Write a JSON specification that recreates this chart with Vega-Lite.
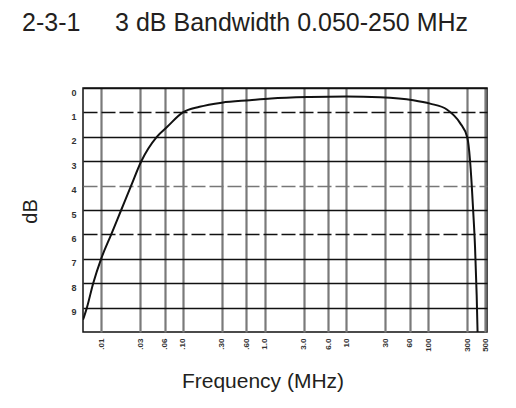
{
  "$schema": "https://vega.github.io/schema/vega-lite/v6.json",
  "autosize": {"type": "none"},
  "width": 404,
  "height": 244,
  "padding": {"left": 83, "top": 88, "right": 29, "bottom": 76},
  "background": "white",
  "title": {
    "text": "2-3-1\u00a0\u00a0\u00a0\u00a0\u00a03 dB Bandwidth 0.050-250 MHz",
    "anchor": "start",
    "frame": "group",
    "dx": -61,
    "offset": 52,
    "font": "Liberation Sans",
    "fontSize": 25,
    "fontWeight": "normal",
    "color": "#231f20"
  },
  "config": {
    "view": {"stroke": "#111", "strokeWidth": 1.5},
    "axis": {"domain": false, "ticks": false}
  },
  "data": {
    "values": [
      {"freq": 0.006, "db": 9.5},
      {"freq": 0.0067, "db": 9.0},
      {"freq": 0.008, "db": 8.0},
      {"freq": 0.01, "db": 7.0},
      {"freq": 0.0133, "db": 6.0},
      {"freq": 0.0176, "db": 5.0},
      {"freq": 0.0233, "db": 4.0},
      {"freq": 0.031, "db": 3.0},
      {"freq": 0.048, "db": 2.0},
      {"freq": 0.064, "db": 1.6},
      {"freq": 0.1, "db": 1.0},
      {"freq": 0.16, "db": 0.77},
      {"freq": 0.3, "db": 0.6},
      {"freq": 0.66, "db": 0.5},
      {"freq": 1.2, "db": 0.43},
      {"freq": 3.6, "db": 0.37},
      {"freq": 10, "db": 0.35},
      {"freq": 26, "db": 0.38},
      {"freq": 66, "db": 0.5},
      {"freq": 106, "db": 0.64},
      {"freq": 170, "db": 0.88},
      {"freq": 246, "db": 1.43},
      {"freq": 303, "db": 2.04},
      {"freq": 326, "db": 2.93},
      {"freq": 343, "db": 4.0},
      {"freq": 358, "db": 5.1},
      {"freq": 376, "db": 6.5},
      {"freq": 394, "db": 8.5},
      {"freq": 404, "db": 10.0}
    ]
  },
  "mark": {"type": "line", "color": "#111", "strokeWidth": 2, "interpolate": "monotone", "clip": true},
  "encoding": {
    "x": {
      "field": "freq",
      "type": "quantitative",
      "scale": {"type": "log", "domain": [0.006, 527], "nice": false},
      "axis": {
        "title": "Frequency (MHz)",
        "titleFont": "Liberation Sans",
        "titleFontSize": 21,
        "titleFontWeight": "normal",
        "titleColor": "#231f20",
        "titleX": 179.5,
        "titleY": 55,
        "titleAlign": "center",
        "titleBaseline": "alphabetic",
        "values": [0.01, 0.03, 0.06, 0.1, 0.3, 0.6, 1, 3, 6, 10, 30, 60, 100, 300, 500],
        "labelExpr": "datum.value < 1 ? replace(format(datum.value, '.2f'), '0.', '.') : (datum.value < 10 ? format(datum.value, '.1f') : format(datum.value, 'd'))",
        "labelAngle": -90,
        "labelFont": "Liberation Sans",
        "labelFontSize": 8,
        "labelFontWeight": "bold",
        "labelColor": "#333",
        "labelPadding": 6,
        "labelFlush": false,
        "labelOverlap": false,
        "grid": true,
        "gridColor": "#7a7a7a",
        "gridWidth": 2.2
      }
    },
    "y": {
      "field": "db",
      "type": "quantitative",
      "scale": {"domain": [0, 10], "reverse": true, "nice": false},
      "axis": {
        "title": "dB",
        "titleFont": "Liberation Sans",
        "titleFontSize": 20,
        "titleFontWeight": "normal",
        "titleColor": "#231f20",
        "titleAngle": -90,
        "titleX": -53,
        "titleY": 123,
        "titleAlign": "center",
        "titleBaseline": "middle",
        "values": [0, 1, 2, 3, 4, 5, 6, 7, 8, 9],
        "labelFont": "Liberation Sans",
        "labelFontSize": 9,
        "labelFontWeight": "bold",
        "labelColor": "#333",
        "labelPadding": 7,
        "labelOffset": 4,
        "grid": true,
        "gridColor": {"condition": {"test": "datum.value == 4", "value": "#777"}, "value": "#111"},
        "gridWidth": 1.6,
        "gridDash": {"condition": {"test": "datum.value == 1 || datum.value == 4 || datum.value == 6", "value": [14, 4]}, "value": []}
      }
    }
  }
}
